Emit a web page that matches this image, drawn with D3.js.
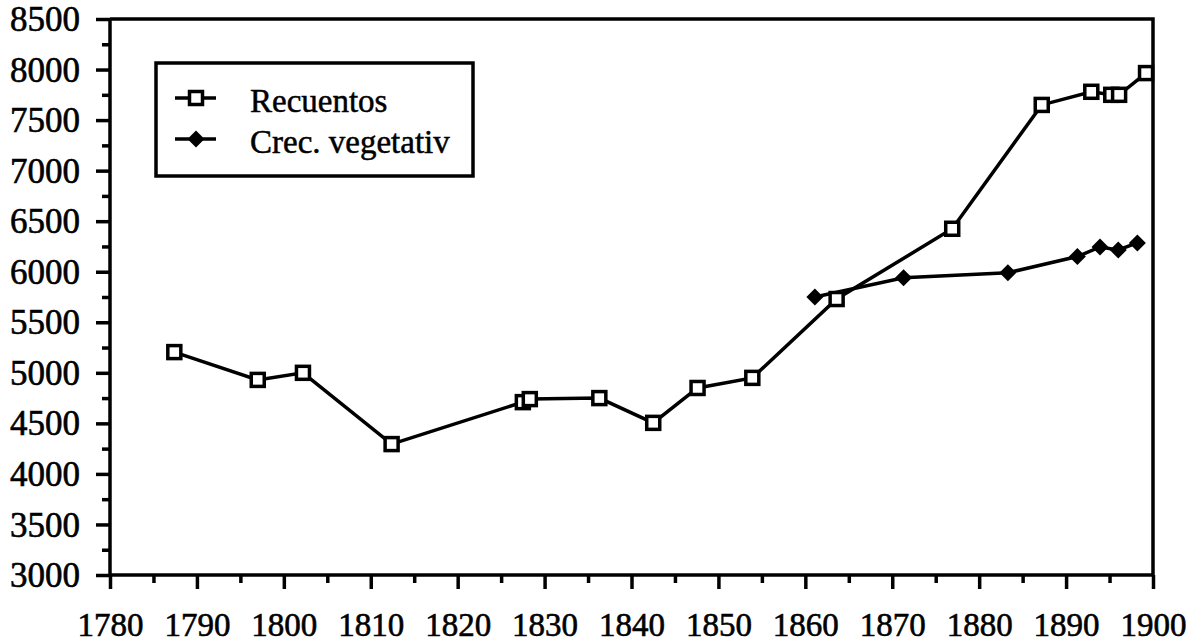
<!DOCTYPE html>
<html><head><meta charset="utf-8">
<script src="https://cdn.jsdelivr.net/npm/d3@7"></script>
<style>body{margin:0;background:#fff}svg{display:block}</style>
</head><body>
<svg id="c" width="1189" height="643"></svg>
<script>
// Data
const recuentosYears  = [1787.4, 1797.0, 1802.2, 1812.4, 1827.5, 1828.3, 1836.3, 1842.5, 1847.6, 1853.9, 1863.6, 1876.9, 1887.2, 1892.9, 1895.2, 1896.1, 1899.2];
const recuentosValues = [5205, 4930, 5000, 4295, 4710, 4740, 4750, 4505, 4850, 4950, 5730, 6425, 7650, 7780, 7750, 7750, 7965];
const crecYears  = [1861.1, 1871.3, 1883.3, 1891.3, 1893.9, 1896.0, 1898.2];
const crecValues = [5750, 5940, 5990, 6150, 6245, 6215, 6285];
const seriesNames = ["Recuentos", "Crec. vegetativ"];
const xTicks = [1780,1790,1800,1810,1820,1830,1840,1850,1860,1870,1880,1890,1900];
const yTicks = [3000,3500,4000,4500,5000,5500,6000,6500,7000,7500,8000,8500];

const svg = d3.select("#c");
const FONT = "'Liberation Serif','Times New Roman',serif";
const x = d3.scaleLinear().domain([1780, 1900]).range([110, 1153]);
const y = d3.scaleLinear().domain([3000, 8500]).range([575, 19]);
const SW = 3.5;

// frame (top and right)
svg.append("path")
  .attr("d", `M${x(1780)},${y(8500)}H${x(1900)}V${y(3000)}`)
  .attr("fill", "none").attr("stroke", "#000").attr("stroke-width", SW);

// minor ticks
const yMinor = d3.range(3250, 8500, 500);
const xMinor = d3.range(1785, 1900, 10);
svg.append("g").attr("transform", `translate(${x(1780)},0)`)
  .call(d3.axisLeft(y).tickValues(yMinor).tickSize(8).tickFormat(""))
  .call(g => g.select(".domain").remove())
  .call(g => g.selectAll("line").attr("stroke-width", SW));
svg.append("g").attr("transform", `translate(0,${y(3000)})`)
  .call(d3.axisBottom(x).tickValues(xMinor).tickSize(8).tickFormat(""))
  .call(g => g.select(".domain").remove())
  .call(g => g.selectAll("line").attr("stroke-width", SW));

// major axes
const yAxis = svg.append("g").attr("transform", `translate(${x(1780)},0)`)
  .call(d3.axisLeft(y).tickValues(yTicks).tickSize(14).tickPadding(16).tickFormat(d3.format("d")));
yAxis.select(".domain").attr("stroke-width", SW).attr("d", `M0,${y(3000)}V${y(8500)}`);
yAxis.selectAll("line").attr("stroke-width", SW);
yAxis.selectAll("text").attr("font-family", FONT).attr("font-size", 35).attr("fill", "#000")
  .attr("stroke", "#000").attr("stroke-width", 0.6).attr("dy", "0.33em");

const xAxis = svg.append("g").attr("transform", `translate(0,${y(3000)})`)
  .call(d3.axisBottom(x).tickValues(xTicks).tickSize(14).tickFormat(d3.format("d")));
xAxis.select(".domain").attr("stroke-width", SW).attr("d", `M${x(1780)},0H${x(1900)}`);
xAxis.selectAll("line").attr("stroke-width", SW);
xAxis.selectAll("text").attr("font-family", FONT).attr("font-size", 33).attr("fill", "#000")
  .attr("stroke", "#000").attr("stroke-width", 0.6).attr("y", 61).attr("dy", 0);

// lines
const line = d3.line().x(d => x(d[0])).y(d => y(d[1]));
const rec = recuentosYears.map((v, i) => [v, recuentosValues[i]]);
const crec = crecYears.map((v, i) => [v, crecValues[i]]);
svg.append("path").datum(crec).attr("d", line).attr("fill", "none").attr("stroke", "#000").attr("stroke-width", SW);
svg.append("path").datum(rec).attr("d", line).attr("fill", "none").attr("stroke", "#000").attr("stroke-width", SW);

const DR = 8.5;
const diamondPath = `M0,${-DR}L${DR},0L0,${DR}L${-DR},0Z`;
svg.append("g").selectAll("path").data(crec).join("path")
  .attr("transform", d => `translate(${x(d[0])},${y(d[1])})`)
  .attr("d", diamondPath).attr("fill", "#000");
const SQ = 13;
svg.append("g").selectAll("rect").data(rec).join("rect")
  .attr("x", d => x(d[0]) - SQ/2).attr("y", d => y(d[1]) - SQ/2)
  .attr("width", SQ).attr("height", SQ)
  .attr("fill", "#fff").attr("stroke", "#000").attr("stroke-width", SW);

// legend
const lg = svg.append("g");
lg.append("rect").attr("x", 156).attr("y", 63).attr("width", 317).attr("height", 113)
  .attr("fill", "#fff").attr("stroke", "#000").attr("stroke-width", SW);
const rows = [{y: 98, name: seriesNames[0], type: "sq"}, {y: 139, name: seriesNames[1], type: "di"}];
rows.forEach(r => {
  lg.append("line").attr("x1", 175).attr("x2", 216).attr("y1", r.y).attr("y2", r.y)
    .attr("stroke", "#000").attr("stroke-width", SW);
  if (r.type === "sq") {
    lg.append("rect").attr("x", 196 - SQ/2).attr("y", r.y - SQ/2).attr("width", SQ).attr("height", SQ)
      .attr("fill", "#fff").attr("stroke", "#000").attr("stroke-width", SW);
  } else {
    lg.append("path").attr("transform", `translate(196,${r.y})`)
      .attr("d", diamondPath).attr("fill", "#000");
  }
  lg.append("text").attr("x", 250).attr("y", r.y + 14).text(r.name)
    .attr("font-family", FONT).attr("font-size", 33).attr("fill", "#000")
    .attr("stroke", "#000").attr("stroke-width", 0.5);
});
</script>
</body></html>
